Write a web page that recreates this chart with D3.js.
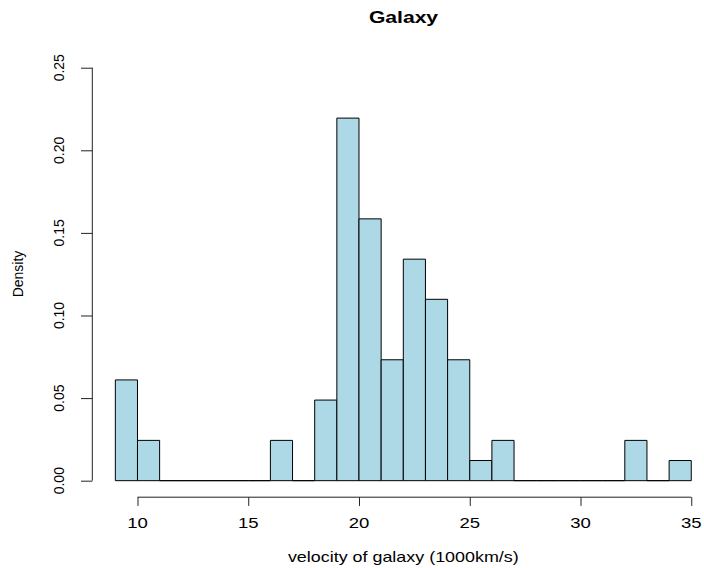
<!DOCTYPE html>
<html>
<head>
<meta charset="utf-8">
<script src="https://cdn.jsdelivr.net/npm/d3@7"></script>
<style>
  html, body { margin: 0; padding: 0; background: #fff; }
  text { font-family: "Liberation Sans", Arial, sans-serif; fill: #000; }
</style>
</head>
<body>
<svg id="chart" width="704" height="568"></svg>
<script>
// histogram bin edges (1000 km/s) and densities
var breaks = [9, 10, 11, 12, 13, 14, 15, 16, 17, 18, 19, 20, 21, 22, 23, 24, 25, 26, 27, 28, 29, 30, 31, 32, 33, 34, 35];
var density = [0.0610, 0.0244, 0, 0, 0, 0, 0, 0.0244, 0, 0.0488, 0.2195, 0.1585, 0.0732, 0.1341, 0.1098, 0.0732, 0.0122, 0.0244, 0, 0, 0, 0, 0, 0.0244, 0, 0.0122];
var xTicks = [10, 15, 20, 25, 30, 35];
var yTicks = [0, 0.05, 0.10, 0.15, 0.20, 0.25];

var svg = d3.select("#chart");
var sx = 1.28; // the picture is stretched sideways

// R style limits: data range padded by 4%
var x = d3.scaleLinear().domain([7.96, 36.04]).range([92.3, 714.3]);
var y = d3.scaleLinear().domain([-0.01, 0.26]).range([497.2, 51.2]);

var bins = density.map(function(d, i) { return {x0: breaks[i], x1: breaks[i + 1], d: d}; });

// bars (paths so that empty bins still show as a line on zero)
svg.selectAll(".bar")
    .data(bins)
  .enter().append("path")
    .attr("class", "bar")
    .attr("fill", "#add8e6")
    .attr("stroke", "#000")
    .attr("stroke-width", 1)
    .attr("d", function(b) {
      return "M" + x(b.x0) + "," + y(0) + "V" + y(b.d) + "H" + x(b.x1) + "V" + y(0) + "Z";
    });

// x axis
var xa = svg.append("g")
    .attr("transform", "translate(0," + y.range()[0] + ")")
    .call(d3.axisBottom(x).tickValues(xTicks).tickSize(8.7).tickSizeOuter(0).tickFormat(d3.format("d")));
xa.select(".domain").attr("d", "M" + x(xTicks[0]) + ",0H" + x(xTicks[xTicks.length - 1]));
xa.selectAll("text").remove();
xa.selectAll("line, path").attr("stroke", "#222");
svg.selectAll(".xlab")
    .data(xTicks)
  .enter().append("text")
    .attr("text-anchor", "middle")
    .attr("font-size", 14.5)
    .attr("transform", function(d) { return "translate(" + x(d) + ",528.3) scale(" + sx + ",1)"; })
    .text(function(d) { return d; });

// y axis
var ya = svg.append("g")
    .attr("transform", "translate(" + x.range()[0] + ",0)")
    .call(d3.axisLeft(y).tickValues(yTicks).tickSize(11.3).tickSizeOuter(0));
ya.select(".domain").attr("d", "M0," + y(yTicks[0]) + "V" + y(yTicks[yTicks.length - 1]));
ya.selectAll("text").remove();
ya.selectAll("line, path").attr("stroke", "#222");
svg.selectAll(".ylab")
    .data(yTicks)
  .enter().append("text")
    .attr("text-anchor", "middle")
    .attr("font-size", 14)
    .attr("transform", function(d) { return "translate(63.5," + y(d) + ") rotate(-90)"; })
    .text(function(d) { return d3.format(".2f")(d); });

// titles
svg.append("text")
    .attr("text-anchor", "middle")
    .attr("font-size", 16.5)
    .attr("font-weight", "bold")
    .attr("transform", "translate(403.5,23.3) scale(" + sx + ",1)")
    .text("Galaxy");

svg.append("text")
    .attr("text-anchor", "middle")
    .attr("font-size", 14)
    .attr("transform", "translate(403.3,562) scale(" + sx + ",1)")
    .text("velocity of galaxy (1000km/s)");

svg.append("text")
    .attr("text-anchor", "middle")
    .attr("font-size", 14)
    .attr("transform", "translate(23.3,274) rotate(-90)")
    .text("Density");
</script>
</body>
</html>
